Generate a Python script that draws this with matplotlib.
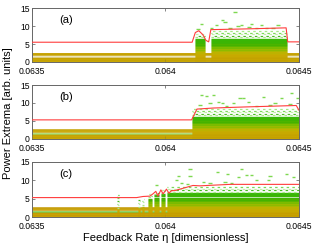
import numpy as np
import matplotlib
matplotlib.use('Agg')
import matplotlib.pyplot as plt
from matplotlib.colors import LinearSegmentedColormap

plt.rcParams['font.family'] = ['Liberation Sans', 'DejaVu Sans']

# ---------------- data ----------------
eta_min, eta_max = 0.0635, 0.0645
x_ticks = [0.0635, 0.064, 0.0645]
x_tick_labels = ['0.0635', '0.064', '0.0645']
y_ticks = [0, 5, 10, 15]
panel_tags = ['(a)', '(b)', '(c)']

# red envelope (largest power extremum)
red_eta_a = [0.0635, 0.064100, 0.064112, 0.064125, 0.064140, 0.064152, 0.064162,
             0.064170, 0.064300, 0.064452, 0.064458, 0.0645]
red_pow_a = [5.5, 5.5, 8.2, 8.7, 7.6, 6.0, 5.6, 9.0, 9.2, 9.5, 5.6, 5.6]

red_eta_b = [0.0635, 0.064098, 0.064118, 0.064180, 0.064300, 0.064490, 0.0645]
red_pow_b = [5.3, 5.3, 8.3, 8.6, 8.9, 9.3, 8.0]

red_eta_c = [0.0635, 0.063892, 0.063916, 0.063942, 0.063953, 0.063964, 0.063972,
             0.063983, 0.063991, 0.064004, 0.064013, 0.064023, 0.064035, 0.064054,
             0.064079, 0.064103, 0.064129, 0.064242, 0.0645]
red_pow_c = [5.3, 5.3, 5.6, 5.7, 6.3, 7.0, 5.7, 7.4, 6.3, 7.6, 6.5, 7.2, 7.2, 7.6,
             8.1, 8.6, 8.5, 8.9, 8.9]

# chaotic windows: start, end, top of dense cloud, top of sparse halo
chaos_start_a = [0.064110, 0.064170]
chaos_end_a = [0.064150, 0.064455]
chaos_top_a = [6.6, 6.6]
halo_top_a = [7.8, 8.8]

chaos_start_b = [0.064098]
chaos_end_b = [0.0645]
chaos_top_b = [6.3]
halo_top_b = [8.6]

chaos_start_c = [0.063818, 0.063898, 0.063913, 0.063935, 0.063958, 0.063985, 0.064005]
chaos_end_c = [0.063826, 0.063905, 0.063920, 0.063949, 0.063975, 0.063998, 0.0645]
chaos_top_c = [2.0, 2.5, 3.0, 5.3, 6.0, 6.3, 6.5]
halo_top_c = [6.5, 5.0, 5.0, 6.4, 7.0, 7.4, 8.3]

# persistent low orbit bands
band_pow_a = [0.1, 0.35, 0.6, 0.85, 1.05, 1.45, 1.85, 2.1, 2.35]
band_col_a = ['#c4a000', '#caa800', '#c4a000', '#caa800', '#c4a000', '#e6dcaa',
              '#c4a000', '#caa800', '#c4a000']
band_pow_b = [0.1, 0.35, 0.6, 0.85, 1.05, 1.4, 1.9, 2.15, 2.4]
band_col_b = ['#c4a000', '#caa800', '#c4a000', '#caa800', '#c4a000', '#9ad458',
              '#c4a000', '#caa800', '#c4a000']
band_pow_c = [0.1, 0.35, 0.6, 0.85, 1.05, 1.45, 1.85, 2.1, 2.35]
band_col_c = ['#c49800', '#caa400', '#c49800', '#caa400', '#c49800', '#70c840',
              '#c49800', '#caa400', '#c49800']

# sparse extrema above the cloud
spark_eta_a = [0.0642602, 0.0642142, 0.0642228, 0.0641355, 0.0641217, 0.0641730,
               0.0641917, 0.0642715, 0.0642853, 0.0643228, 0.0643602, 0.0644213,
               0.0643127, 0.0643415, 0.0643790, 0.0644025, 0.0642415]
spark_pow_a = [14.0, 11.7, 11.0, 10.7, 9.2, 9.5, 10.3, 10.1, 10.3, 10.5, 10.3, 10.3,
               9.6, 9.5, 9.5, 9.4, 9.4]

spark_eta_b = [0.0641355, 0.0641790, 0.0642790, 0.0642913, 0.0643662, 0.0644351,
               0.0644935, 0.0641666, 0.0641977, 0.0642539, 0.0643100, 0.0644100,
               0.0644662, 0.0641292, 0.0642291, 0.0643415, 0.0643913, 0.0641543,
               0.0642142, 0.0644726]
spark_pow_b = [12.1, 12.2, 11.4, 11.4, 11.6, 11.3, 11.3, 10.0, 10.2, 10.0, 10.2, 10.0,
               9.8, 9.3, 9.1, 9.1, 9.3, 11.9, 10.1, 12.7]

spark_eta_c = [0.0642853, 0.0641940, 0.0642314, 0.0643040, 0.0643228, 0.0643913,
               0.0644539, 0.0642726, 0.0644786, 0.0641415, 0.0642228, 0.0643415,
               0.0643849, 0.0641666, 0.0642479, 0.0640917, 0.0640479, 0.0640917,
               0.0640419, 0.0639670, 0.0640606, 0.0640816]
spark_pow_c = [13.2, 12.2, 11.7, 11.4, 11.4, 11.3, 11.7, 10.8, 10.8, 9.6, 9.6, 10.0,
               10.0, 9.4, 9.4, 13.2, 11.1, 11.1, 10.1, 8.7, 9.2, 8.9]

panels = [
    dict(red_eta=red_eta_a, red_pow=red_pow_a, cs=chaos_start_a, ce=chaos_end_a,
         ct=chaos_top_a, ht=halo_top_a, bp=band_pow_a, bc=band_col_a,
         se=spark_eta_a, sp=spark_pow_a),
    dict(red_eta=red_eta_b, red_pow=red_pow_b, cs=chaos_start_b, ce=chaos_end_b,
         ct=chaos_top_b, ht=halo_top_b, bp=band_pow_b, bc=band_col_b,
         se=spark_eta_b, sp=spark_pow_b),
    dict(red_eta=red_eta_c, red_pow=red_pow_c, cs=chaos_start_c, ce=chaos_end_c,
         ct=chaos_top_c, ht=halo_top_c, bp=band_pow_c, bc=band_col_c,
         se=spark_eta_c, sp=spark_pow_c),
]

# ---------------- style ----------------
cloud_cmap = LinearSegmentedColormap.from_list(
    'cloud', [(0.0, '#c4a000'), (0.35, '#c8ac00'), (0.5, '#b4b800'),
              (0.62, '#80bc00'), (0.78, '#44b200'), (1.0, '#38b808')])
shade = [0.0, 0.05, -0.04, 0.02, 0.07, -0.03, 0.03, -0.05]
stripe_step = 0.28
spark_half = 0.6e-5
halo_cols = ['#a6e886', '#48bc20', '#c2f0a8', '#7cd858']

fig = plt.figure(figsize=(3.16, 2.45), dpi=100)
boxes = [[0.101, 0.747, 0.845, 0.220],
         [0.101, 0.433, 0.845, 0.220],
         [0.101, 0.114, 0.845, 0.225]]

for i, (box, p) in enumerate(zip(boxes, panels)):
    ax = fig.add_axes(box)
    # bands
    for lvl, col in zip(p['bp'], p['bc']):
        ax.hlines(lvl, eta_min, eta_max, color=col, lw=1.1, zorder=1)
    # dense clouds
    for s, e, top, htop in zip(p['cs'], p['ce'], p['ct'], p['ht']):
        lvl = 0.0
        k = 0
        while lvl <= top:
            f = min(max(lvl / 6.4 + shade[k % len(shade)], 0), 1)
            ax.hlines(lvl, s, e, color=cloud_cmap(f), lw=1.0, zorder=2)
            lvl += stripe_step
            k += 1
        j = 0
        lvl += 0.1
        while lvl <= htop:
            ax.hlines(lvl, s, e, color=halo_cols[j % len(halo_cols)],
                      lw=0.9, linestyles=((j * 2.1) % 5, (2.0, 2.6)), zorder=2)
            lvl += stripe_step * 1.5
            j += 1
    # low bands drawn over cloud bottom
    for lvl, col in zip(p['bp'][:5], p['bc'][:5]):
        ax.hlines(lvl, eta_min, eta_max, color=col, lw=1.0, zorder=3, alpha=0.6)
    # sparks
    for xe, yp in zip(p['se'], p['sp']):
        ax.hlines(yp, xe - spark_half, xe + spark_half, color='#7ed850', lw=1.0, zorder=3)
    # red envelope
    ax.plot(p['red_eta'], p['red_pow'], color='#ff3c3c', lw=0.8, zorder=4)

    ax.set_xlim(eta_min, eta_max)
    ax.set_ylim(0, 15)
    ax.set_xticks(x_ticks)
    ax.set_xticklabels(x_tick_labels)
    ax.set_yticks(y_ticks)
    ax.tick_params(direction='in', length=2, width=0.5, labelsize=6.2, pad=1.5,
                   top=True, right=True, colors='#555555', labelcolor='black')
    ax.tick_params(axis='x', pad=3.6)
    for sp in ax.spines.values():
        sp.set_color('#666666')
        sp.set_linewidth(0.7)
    ax.text(0.063627, 11.7, panel_tags[i], fontsize=8, ha='center', va='center')

fig.text(0.025, 0.54, 'Power Extrema [arb. units]', rotation=90, fontsize=8,
         ha='center', va='center')
fig.text(0.523, 0.03, 'Feedback Rate \u03b7 [dimensionless]', fontsize=8,
         ha='center', va='center')

fig.savefig('out.png', dpi=100)
